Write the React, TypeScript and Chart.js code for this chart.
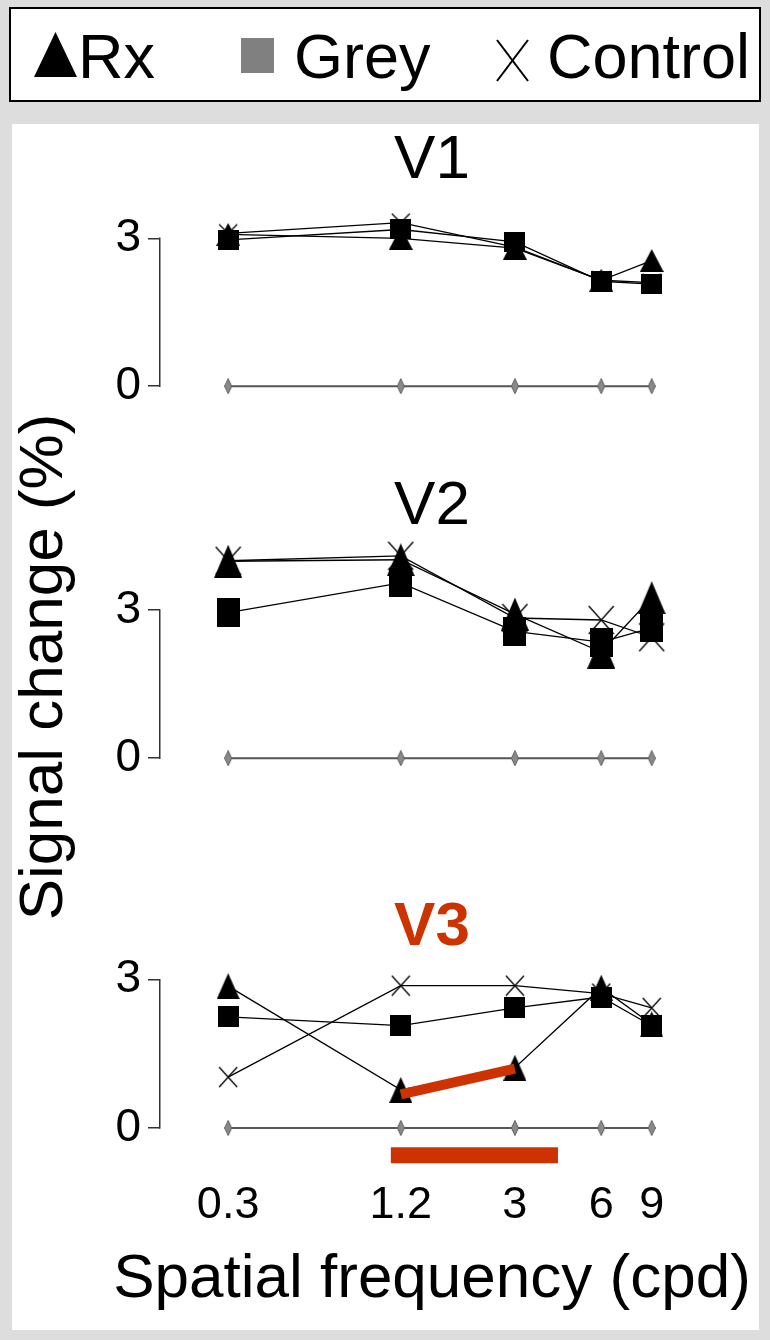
import React, { useEffect, useRef } from 'react';
import { Chart, registerables } from 'chart.js';

Chart.register(...registerables);

const FONT = '"Liberation Sans", Arial, Helvetica, sans-serif';
const RED = '#cc3300';

// ---- data ----
const FREQ = [0.3, 1.2, 3, 6, 9];
const FREQ_LABELS = ['0.3', '1.2', '3', '6', '9'];
const Y_TICKS = [0, 3];
const BASELINE = [0, 0, 0, 0, 0];

const V1_RX = [3.08, 3.0, 2.8, 2.15, 2.55];
const V1_GREY = [2.97, 3.18, 2.93, 2.13, 2.07];
const V1_CONTROL = [3.1, 3.32, 2.82, 2.15, 2.1];

const V2_RX = [3.99, 4.02, 2.92, 2.15, 3.25];
const V2_GREY = [2.95, 3.55, 2.57, 2.35, 2.64];
const V2_CONTROL = [4.0, 4.1, 2.84, 2.8, 2.45];

const V3_RX = [2.87, 0.77, 1.22, 2.84, 2.1];
const V3_GREY = [2.25, 2.07, 2.43, 2.65, 2.07];
const V3_CONTROL = [1.03, 2.88, 2.88, 2.72, 2.43];

const V3_HIGHLIGHT_X = [1.2, 3];
const V3_HIGHLIGHT_Y = [0.68, 1.2];
const V3_BAR_X = [1.108, 4.24];
const V3_BAR_Y = [-0.55, -0.55];

const X_MIN = 0.1736;
const X_MAX = 21.82;

type Shape = 'tri' | 'sq' | 'x' | 'diamond';

function makeMarker(shape: Shape, w: number, h: number): HTMLCanvasElement {
  const c = document.createElement('canvas');
  c.width = w;
  c.height = h;
  const g = c.getContext('2d')!;
  if (shape === 'tri') {
    g.fillStyle = '#000';
    g.beginPath();
    g.moveTo(w / 2, 0);
    g.lineTo(w, h);
    g.lineTo(0, h);
    g.closePath();
    g.fill();
  } else if (shape === 'sq') {
    g.fillStyle = '#000';
    g.fillRect(0, 0, w, h);
  } else if (shape === 'x') {
    g.strokeStyle = '#000';
    g.lineWidth = 1.3;
    g.beginPath();
    g.moveTo(1, 1);
    g.lineTo(w - 1, h - 1);
    g.moveTo(w - 1, 1);
    g.lineTo(1, h - 1);
    g.stroke();
  } else {
    g.fillStyle = '#8a8a8a';
    g.strokeStyle = '#5e5e5e';
    g.lineWidth = 1;
    g.beginPath();
    g.moveTo(w / 2, 0.5);
    g.lineTo(w - 0.5, h / 2);
    g.lineTo(w / 2, h - 0.5);
    g.lineTo(0.5, h / 2);
    g.closePath();
    g.fill();
    g.stroke();
  }
  return c;
}

interface PanelSpec {
  title: string;
  titleColor: string;
  titleBold: boolean;
  top: number;
  height: number;
  padTop: number;
  padBottom: number;
  layoutBottom: number;
  yMin: number;
  yMax: number;
  rx: number[];
  grey: number[];
  control: number[];
  tri: [number, number];
  sq: [number, number];
  cross: [number, number];
  showX: boolean;
  highlight: boolean;
}

const PANELS: PanelSpec[] = [
  {
    title: 'V1', titleColor: '#000', titleBold: false, top: 125, height: 306, padTop: 5, padBottom: 2, layoutBottom: 30,
    yMin: -0.3, yMax: 3.9, rx: V1_RX, grey: V1_GREY, control: V1_CONTROL,
    tri: [24, 23], sq: [21, 20], cross: [20, 20], showX: false, highlight: false,
  },
  {
    title: 'V2', titleColor: '#000', titleBold: false, top: 460, height: 343, padTop: 16, padBottom: 3, layoutBottom: 30,
    yMin: -0.3, yMax: 4.4, rx: V2_RX, grey: V2_GREY, control: V2_CONTROL,
    tri: [28, 33], sq: [23, 29], cross: [27, 30], showX: false, highlight: false,
  },
  {
    title: 'V3', titleColor: RED, titleBold: true, top: 880, height: 451, padTop: 17, padBottom: 0, layoutBottom: 0,
    yMin: -0.8, yMax: 3.42, rx: V3_RX, grey: V3_GREY, control: V3_CONTROL,
    tri: [23, 26], sq: [21, 21], cross: [20, 22], showX: true, highlight: true,
  },
];

const bracketPlugin = {
  id: 'bracket',
  afterDraw(chart: any) {
    const y = chart.scales.y;
    const ctx = chart.ctx;
    const x = Math.round(chart.chartArea.left) - 0.25;
    ctx.save();
    ctx.strokeStyle = '#333';
    ctx.lineWidth = 1.5;
    ctx.beginPath();
    ctx.moveTo(x, y.getPixelForValue(Y_TICKS[0]) + 0.75);
    ctx.lineTo(x, y.getPixelForValue(Y_TICKS[Y_TICKS.length - 1]) - 0.75);
    ctx.stroke();
    ctx.restore();
  },
};

function pts(xs: number[], ys: number[]) {
  return xs.map((x, i) => ({ x, y: ys[i] }));
}

function buildConfig(spec: PanelSpec): any {
  const series = (label: string, ys: number[], img: HTMLCanvasElement) => ({
    label,
    data: pts(FREQ, ys),
    borderColor: '#000',
    borderWidth: 1.3,
    pointStyle: img,
    pointRadius: 6,
    pointHoverRadius: 6,
    clip: false,
    fill: false,
    tension: 0,
  });

  const datasets: any[] = [];
  if (spec.highlight) {
    datasets.push({
      label: 'highlight',
      data: pts(V3_HIGHLIGHT_X, V3_HIGHLIGHT_Y),
      borderColor: RED,
      borderWidth: 10,
      borderCapStyle: 'butt',
      pointRadius: 0,
      clip: false,
      fill: false,
    });
    datasets.push({
      label: 'significance',
      data: pts(V3_BAR_X, V3_BAR_Y),
      borderColor: RED,
      borderWidth: 16,
      borderCapStyle: 'butt',
      pointRadius: 0,
      clip: false,
      fill: false,
    });
  }
  datasets.push(series('Grey', spec.grey, makeMarker('sq', spec.sq[0], spec.sq[1])));
  datasets.push(series('Rx', spec.rx, makeMarker('tri', spec.tri[0], spec.tri[1])));
  datasets.push(series('Control', spec.control, makeMarker('x', spec.cross[0], spec.cross[1])));
  datasets.push({
    label: 'baseline',
    data: pts(FREQ, BASELINE),
    borderColor: '#555',
    borderWidth: 2,
    pointStyle: makeMarker('diamond', 8, 16),
    pointRadius: 6,
    clip: false,
    fill: false,
  });

  return {
    type: 'line',
    data: { datasets },
    plugins: [bracketPlugin],
    options: {
      responsive: false,
      animation: false,
      events: [],
      layout: { padding: { left: 94, right: 0, top: 0, bottom: spec.layoutBottom } },
      plugins: {
        legend: { display: false },
        tooltip: { enabled: false },
        title: {
          display: true,
          text: spec.title,
          color: spec.titleColor,
          fullSize: true,
          align: 'center',
          font: { family: FONT, size: 62, weight: spec.titleBold ? 'bold' : 'normal', lineHeight: 1 },
          padding: { top: spec.padTop, bottom: spec.padBottom },
        },
        subtitle: {
          display: spec.showX,
          position: 'bottom',
          fullSize: true,
          align: 'center',
          text: 'Spatial frequency (cpd)',
          color: '#000',
          font: { family: FONT, size: 62, weight: 'normal', lineHeight: 1 },
          padding: { top: 4.5, bottom: 20 },
        },
      },
      scales: {
        x: {
          type: 'logarithmic',
          min: X_MIN,
          max: X_MAX,
          bounds: 'data',
          display: spec.showX,
          grid: { display: false, drawTicks: false, drawOnChartArea: false },
          border: { display: false },
          afterBuildTicks: (s: any) => {
            s.ticks = FREQ.map((v) => ({ value: v }));
          },
          ticks: {
            autoSkip: false,
            maxRotation: 0,
            minRotation: 0,
            padding: 16,
            color: '#000',
            font: { family: FONT, size: 45, lineHeight: 1 },
            callback: (_v: any, i: number) => FREQ_LABELS[i],
          },
          title: { display: false },
        },
        y: {
          type: 'linear',
          min: spec.yMin,
          max: spec.yMax,
          bounds: 'data',
          afterFit: (s: any) => {
            s.width = 66;
          },
          afterBuildTicks: (s: any) => {
            s.ticks = Y_TICKS.map((v) => ({ value: v }));
          },
          grid: { drawOnChartArea: false, drawTicks: true, tickLength: 12, color: '#333', lineWidth: 1.5 },
          border: { display: false },
          ticks: {
            padding: 7,
            color: '#000',
            font: { family: FONT, size: 46, lineHeight: 1 },
            callback: (v: any) => String(v),
          },
        },
      },
    },
  };
}

function Panel({ spec }: { spec: PanelSpec }) {
  const ref = useRef<HTMLCanvasElement>(null);
  useEffect(() => {
    const chart = new Chart(ref.current!, buildConfig(spec));
    return () => chart.destroy();
  }, [spec]);
  return (
    <canvas
      ref={ref}
      width={770}
      height={spec.height}
      style={{ position: 'absolute', left: 0, top: spec.top, width: 770, height: spec.height }}
    />
  );
}

const legendText: React.CSSProperties = {
  position: 'absolute',
  top: 25,
  fontFamily: FONT,
  fontSize: 63,
  lineHeight: '63px',
  color: '#000',
  whiteSpace: 'nowrap',
};

export default function App() {
  return (
    <div
      style={{
        position: 'absolute',
        left: 0,
        top: 0,
        width: 770,
        height: 1340,
        overflow: 'hidden',
        background: '#dddddd',
      }}
    >
      <div style={{ position: 'absolute', left: 12, top: 124, width: 747, height: 1206, background: '#fff' }} />
      {/* legend */}
      <div
        style={{
          position: 'absolute',
          left: 9,
          top: 7,
          width: 752,
          height: 95,
          boxSizing: 'border-box',
          border: '2px solid #000',
          background: '#fff',
        }}
      />
      <svg style={{ position: 'absolute', left: 34, top: 32 }} width={43} height={45}>
        <polygon points="21.5,0 43,45 0,45" fill="#000" />
      </svg>
      <span style={{ ...legendText, left: 78 }}>Rx</span>
      <div style={{ position: 'absolute', left: 241, top: 38, width: 33, height: 35, background: '#808080' }} />
      <span style={{ ...legendText, left: 294 }}>Grey</span>
      <svg style={{ position: 'absolute', left: 496, top: 39 }} width={33} height={43}>
        <line x1={1} y1={1} x2={32} y2={42} stroke="#000" strokeWidth={2} />
        <line x1={32} y1={1} x2={1} y2={42} stroke="#000" strokeWidth={2} />
      </svg>
      <span style={{ ...legendText, left: 547 }}>Control</span>

      {/* y-axis title */}
      <div
        style={{
          position: 'absolute',
          left: 40.5 - 300,
          top: 667 - 31,
          width: 600,
          height: 62,
          lineHeight: '62px',
          fontFamily: FONT,
          fontSize: 62,
          textAlign: 'center',
          color: '#000',
          transform: 'rotate(-90deg)',
          whiteSpace: 'nowrap',
        }}
      >
        Signal change (%)
      </div>

      {PANELS.map((p) => (
        <Panel key={p.title} spec={p} />
      ))}
    </div>
  );
}
